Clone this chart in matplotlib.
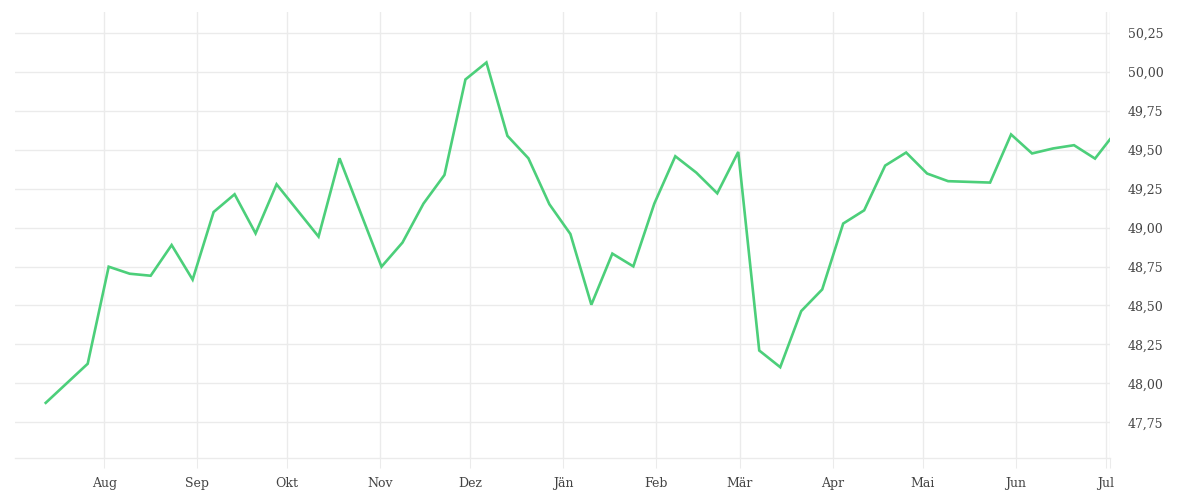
import matplotlib
matplotlib.use("Agg")
import matplotlib.pyplot as plt
import matplotlib.dates as mdates
from matplotlib.ticker import FuncFormatter, FixedLocator
from datetime import datetime

dates = ["2022-07-12", "2022-07-26", "2022-08-02", "2022-08-09", "2022-08-16", "2022-08-23",
         "2022-08-30", "2022-09-06", "2022-09-13", "2022-09-20", "2022-09-27", "2022-10-11",
         "2022-10-18", "2022-11-01", "2022-11-08", "2022-11-15", "2022-11-22", "2022-11-29",
         "2022-12-06", "2022-12-13", "2022-12-20", "2022-12-27", "2023-01-03", "2023-01-10",
         "2023-01-17", "2023-01-24", "2023-01-31", "2023-02-07", "2023-02-14", "2023-02-21",
         "2023-02-28", "2023-03-07", "2023-03-14", "2023-03-21", "2023-03-28", "2023-04-04",
         "2023-04-11", "2023-04-18", "2023-04-25", "2023-05-02", "2023-05-09", "2023-05-23",
         "2023-05-30", "2023-06-06", "2023-06-13", "2023-06-20", "2023-06-27", "2023-07-02"]
values = [47.875, 48.126, 48.749, 48.704, 48.691, 48.888,
          48.666, 49.100, 49.214, 48.963, 49.278, 48.942,
          49.445, 48.749, 48.904, 49.154, 49.338, 49.951,
          50.060, 49.589, 49.445, 49.150, 48.959, 48.505,
          48.833, 48.751, 49.154, 49.458, 49.353, 49.220,
          49.486, 48.211, 48.104, 48.464, 48.603, 49.026,
          49.111, 49.398, 49.482, 49.347, 49.298, 49.289,
          49.598, 49.476, 49.508, 49.529, 49.443, 49.567]

month_starts = ["2022-08-01", "2022-09-01", "2022-10-01", "2022-11-01", "2022-12-01", "2023-01-01",
                "2023-02-01", "2023-03-01", "2023-04-01", "2023-05-01", "2023-06-01", "2023-07-01"]
month_labels = ["Aug", "Sep", "Okt", "Nov", "Dez", "Jän", "Feb", "Mär", "Apr", "Mai", "Jun", "Jul"]
y_ticks = [47.75, 48.00, 48.25, 48.50, 48.75, 49.00, 49.25, 49.50, 49.75, 50.00, 50.25]

x = mdates.date2num([datetime.fromisoformat(d + "T12:00") for d in dates])
mx = mdates.date2num([datetime.fromisoformat(d) for d in month_starts])
x_left = mdates.date2num(datetime(2022, 7, 2, 6))
x_right = mdates.date2num(datetime(2023, 7, 2, 12))

grid_c = "#ebebeb"
text_c = "#444444"
font = "DejaVu Serif"

fig = plt.figure(figsize=(12, 5), dpi=100)
ax = fig.add_axes([15/1200, 1 - 458.3/500, (1110 - 15)/1200, (458.3 - 11.7)/500])

ax.plot(x, values, color="#4ccf7a", linewidth=1.9, solid_joinstyle="miter", zorder=3)

ax.set_xlim(x_left, x_right)
ax.set_ylim(47.519, 50.386)

ax.xaxis.set_major_locator(FixedLocator(mx))
ax.set_xticklabels(month_labels)
ax.set_xticks([x_right], minor=True)
ax.yaxis.set_major_locator(FixedLocator(y_ticks))
ax.yaxis.set_major_formatter(FuncFormatter(lambda v, p: f"{v:.2f}".replace(".", ",")))
ax.yaxis.tick_right()

ax.grid(True, which="major", color=grid_c, linewidth=1.0)
ax.grid(True, which="minor", axis="x", color=grid_c, linewidth=1.0)

for s in ["top", "left", "right"]:
    ax.spines[s].set_visible(False)
ax.spines["bottom"].set_color(grid_c)
ax.spines["bottom"].set_linewidth(1.0)

ax.tick_params(axis="x", which="both", direction="out", length=7.2, width=0.75,
               color=grid_c, pad=6, labelsize=9, labelcolor=text_c)
ax.tick_params(axis="y", length=0, pad=13, labelsize=9, labelcolor=text_c)
for lbl in ax.get_xticklabels() + ax.get_yticklabels():
    lbl.set_fontfamily(font)

fig.savefig("out.png", dpi=100, facecolor="white")
